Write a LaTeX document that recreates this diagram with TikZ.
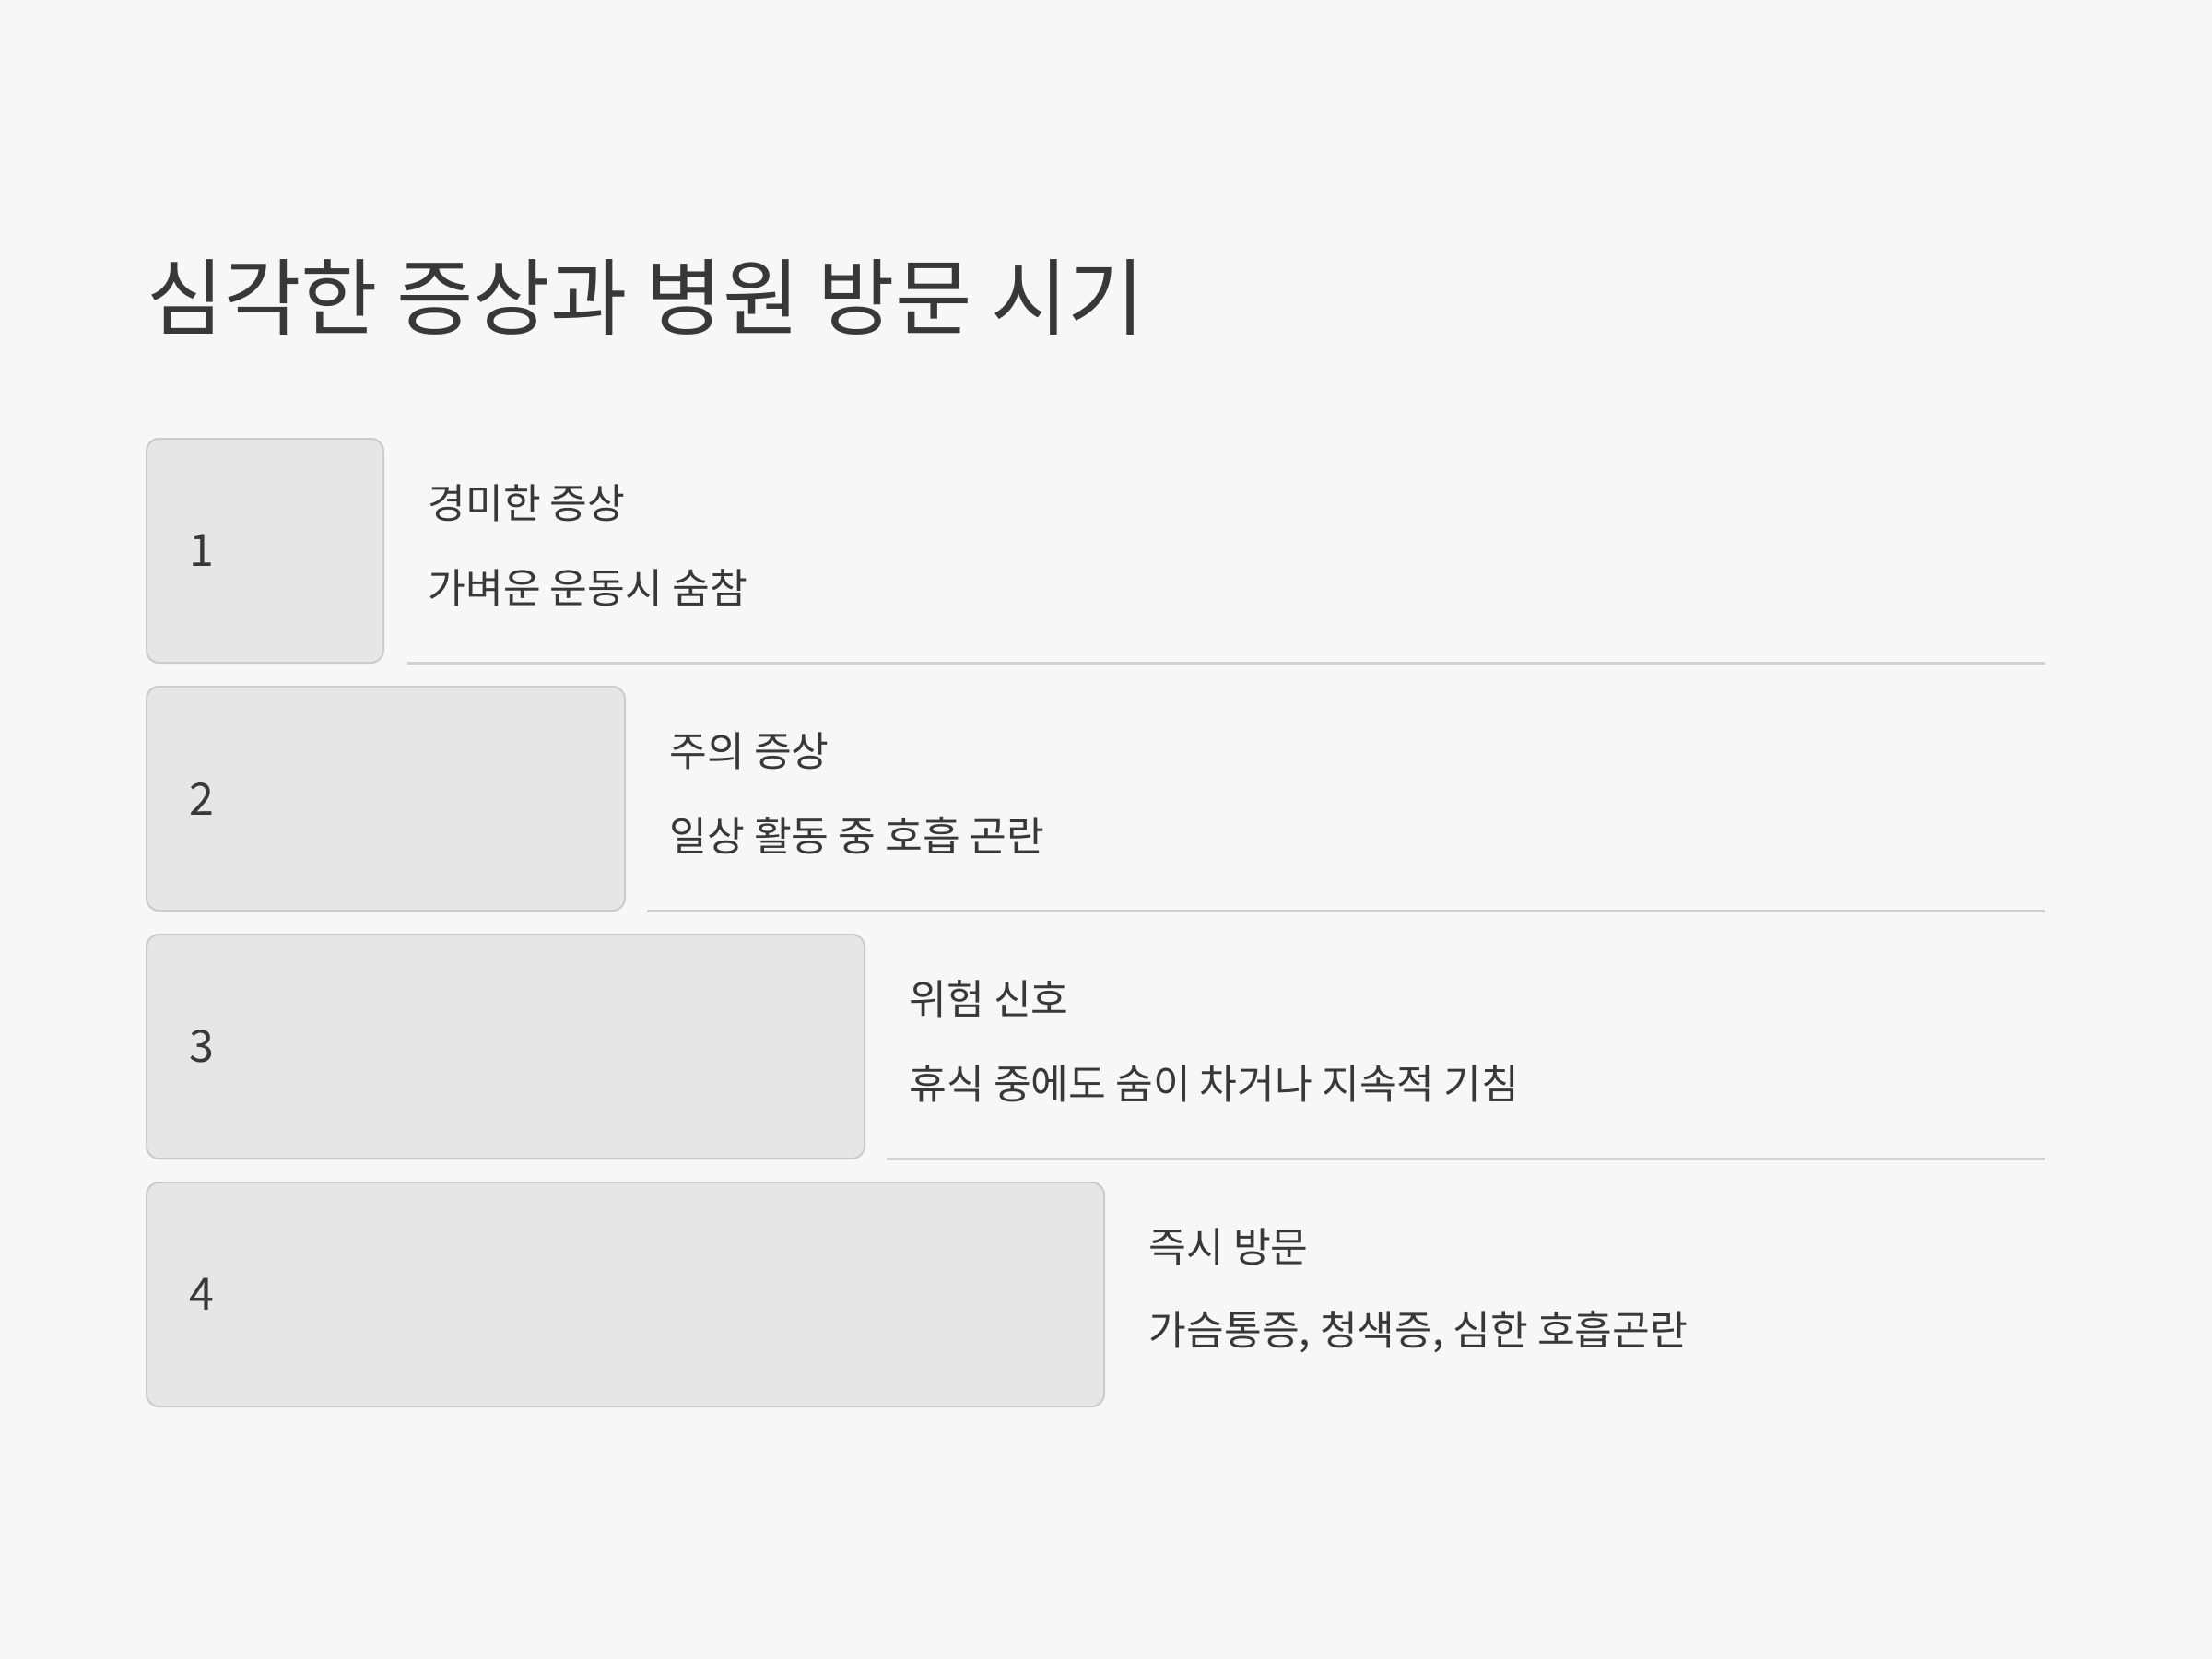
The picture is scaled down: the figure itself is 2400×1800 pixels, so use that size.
\documentclass[tikz,border=0pt]{standalone}
\usepackage{fontspec}
\setmainfont{Noto Sans CJK KR}
\definecolor{bgc}{HTML}{F7F7F7}
\definecolor{boxfill}{HTML}{E6E6E6}
\definecolor{boxline}{HTML}{CCCCCC}
\definecolor{txt}{HTML}{383838}
\definecolor{sepc}{HTML}{D0D0D0}
\begin{document}
\begin{tikzpicture}[x=0.3pt,y=-0.3pt,
  stepbox/.style={draw=boxline, fill=boxfill, line width=0.6pt, rounded corners=4pt},
  numlabel/.style={anchor=west, text=txt, font=\fontsize{14.5}{16}\selectfont, inner sep=0pt},
  headlabel/.style={anchor=west, text=txt, font=\fontsize{13.3}{15}\selectfont, inner sep=0pt},
  desclabel/.style={anchor=west, text=txt, font=\fontsize{13.3}{15}\selectfont, inner sep=0pt},
  sepline/.style={draw=sepc, line width=0.9pt}]
\fill[bgc] (0,0) rectangle (2400,1800);
\useasboundingbox (0,0) rectangle (2400,1800);
\node[anchor=west, text=txt, font=\fontsize{27.2}{32}\selectfont, inner sep=0pt] (title) at (159,323) {심각한 증상과 병원 방문 시기};
% rows
\foreach \i/\w/\num/\head/\desc in {0/257/1/경미한 증상/가벼운 운동시 숨참,
  1/519/2/주의 증상/일상 활동 중 호흡 곤란,
  2/779/3/위험 신호/휴식 중에도 숨이 차거나 지속적 기침,
  3/1039/4/즉시 방문/{가슴통증, 청색증, 심한 호흡곤란}}{
  \pgfmathsetmacro{\top}{476+269*\i}
  \pgfmathsetmacro{\bot}{\top+243}
  \pgfmathsetmacro{\rgt}{159+\w}
  \draw[stepbox] (159,\top) rectangle (\rgt,\bot);
  \node[numlabel] (n\num) at (205,\top+121.5) {\num};
  \node[headlabel] (h\num) at (\rgt+48,\top+70) {\head};
  \node[desclabel] (d\num) at (\rgt+48,\top+162) {\desc};
}
\foreach \i in {0,1,2}{
  \pgfmathsetmacro{\bot}{476+269*\i+243}
  \pgfmathsetmacro{\lft}{159+257+260*\i+26}
  \coordinate (s\i a) at (\lft,\bot);
  \coordinate (s\i b) at (2219,\bot);
  \draw[sepline] (s\i a) -- (s\i b);
}
\end{tikzpicture}
\end{document}
